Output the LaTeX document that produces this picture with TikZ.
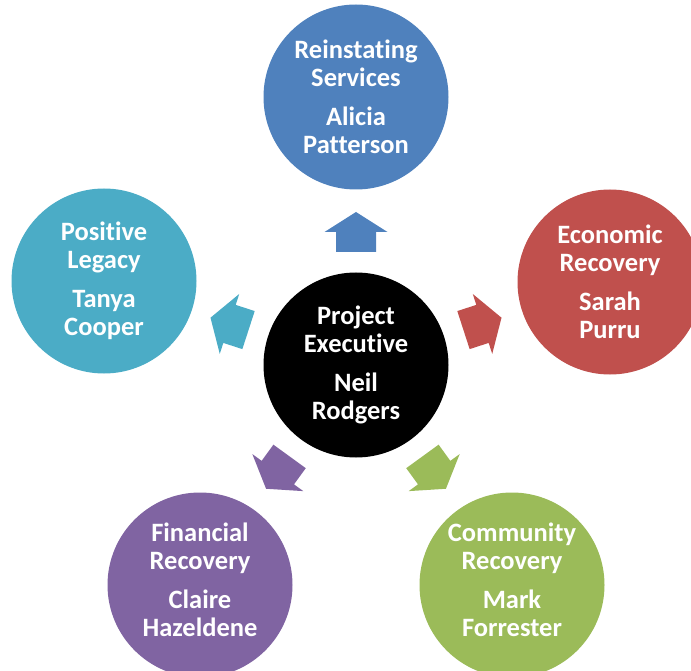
\documentclass[tikz,border=0pt]{standalone}
\usepackage{fontspec}
\setmainfont{Carlito}[Ligatures=NoCommon]
\definecolor{cblue}{HTML}{4F81BD}
\definecolor{cred}{HTML}{C0504D}
\definecolor{cgreen}{HTML}{9BBB59}
\definecolor{cpurple}{HTML}{8064A2}
\definecolor{caqua}{HTML}{4BACC6}
\tikzset{
  role/.style={circle, minimum size=185pt, inner sep=0pt, align=center,
    text=white, font=\fontsize{26.5}{28}\selectfont\bfseries},
}
% an empty last line that lifts the text block a little inside its circle
\newcommand{\liftpad}{\\[-18pt]\mbox{}}
% block arrow pointing outward from the hub along the local x axis
\newcommand{\blockarrow}[2]{%
  \begin{scope}[shift={(hub.center)}, rotate=#1]
    \fill[#2] (113,-20) -- (133,-20) -- (133,-31.5) -- (153,0)
      -- (133,31.5) -- (133,20) -- (113,20) -- cycle;
  \end{scope}}
\begin{document}
\begin{tikzpicture}[x=1pt, y=1pt]
  \useasboundingbox (0,-671) rectangle (691,0);
  \begin{scope}
    \clip (0,-671) rectangle (691,0);
    \node[role, fill=black] (hub) at (356,-365)
      {Project\\Executive\\[11pt]Neil\\Rodgers};
    \node[role, fill=cblue] (rs) at (356,-97)
      {Reinstating\\Services\\[11pt]Alicia\\Patterson};
    \node[role, fill=cred] (er) at (610,-282)
      {Economic\\Recovery\\[11pt]Sarah\\Purru};
    \node[role, fill=cgreen] (cr) at (512,-585)
      {Community\\Recovery\\[11pt]Mark\\Forrester\liftpad};
    \node[role, fill=cpurple] (fr) at (200,-585)
      {Financial\\Recovery\\[11pt]Claire\\Hazeldene\liftpad};
    \node[role, fill=caqua] (pl) at (104,-281)
      {Positive\\Legacy\\[11pt]Tanya\\Cooper};
    \blockarrow{90}{cblue}
    \blockarrow{18}{cred}
    \blockarrow{-54}{cgreen}
    \blockarrow{-126}{cpurple}
    \blockarrow{162}{caqua}
  \end{scope}
\end{tikzpicture}
\end{document}
